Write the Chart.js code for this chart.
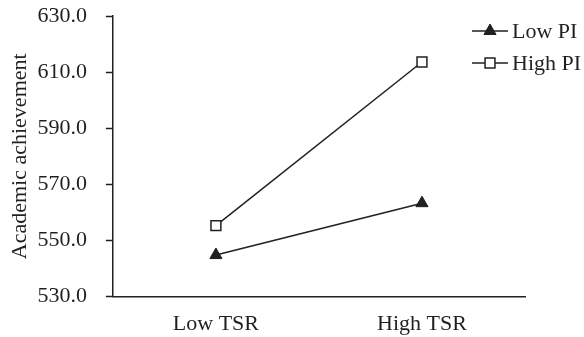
<!DOCTYPE html>
<html>
<head>
<meta charset="utf-8">
<script src="https://cdn.jsdelivr.net/npm/chart.js@4/dist/chart.umd.min.js"></script>
<style>
  html, body { margin: 0; padding: 0; background: #fff; }
  #wrap { width: 584px; height: 337px; position: relative; }
</style>
</head>
<body>
<div id="wrap"><canvas id="chart"></canvas></div>
<script>
// Data
const categories = ["Low TSR", "High TSR"];
const lowPI = [544.8, 563.3];
const highPI = [555.3, 613.6];
const yTicks = [530, 550, 570, 590, 610, 630];

const ink = "#231f20";
const serif = "'Liberation Serif', 'Times New Roman', serif";

// legend with line + marker, drawn on the canvas
const lineLegend = {
  id: "lineLegend",
  afterDraw(chart) {
    const c = chart.ctx;
    const x0 = 472, x1 = 508;
    let y = 31;
    chart.data.datasets.forEach(ds => {
      c.save();
      c.strokeStyle = ink;
      c.lineWidth = 1.5;
      c.beginPath();
      c.moveTo(x0, y);
      c.lineTo(x1, y);
      c.stroke();
      c.fillStyle = ds.pointBackgroundColor;
      c.strokeStyle = ds.pointBorderColor;
      c.lineWidth = ds.pointBorderWidth;
      Chart.helpers.drawPoint(c, {
        pointStyle: ds.pointStyle,
        radius: ds.pointRadius,
        borderWidth: ds.pointBorderWidth
      }, (x0 + x1) / 2, y);
      c.fillStyle = ink;
      c.font = "22px " + serif;
      c.textBaseline = "middle";
      c.fillText(ds.label, 512, y + 1);
      c.restore();
      y += 32;
    });
  }
};

new Chart(document.getElementById("chart"), {
  type: "line",
  data: {
    labels: categories,
    datasets: [
      {
        label: "Low PI",
        data: lowPI,
        borderColor: ink,
        borderWidth: 1.5,
        pointStyle: "triangle",
        pointRadius: 7,
        pointBorderWidth: 1,
        pointBackgroundColor: ink,
        pointBorderColor: ink
      },
      {
        label: "High PI",
        data: highPI,
        borderColor: ink,
        borderWidth: 1.5,
        pointStyle: "rect",
        pointRadius: 7,
        pointBorderWidth: 1.5,
        pointBackgroundColor: "#fff",
        pointBorderColor: ink
      }
    ]
  },
  options: {
    responsive: true,
    maintainAspectRatio: false,
    animation: false,
    layout: { padding: { top: 16, right: 59, bottom: 0, left: 7 } },
    plugins: {
      legend: { display: false },
      tooltip: { enabled: false }
    },
    scales: {
      x: {
        offset: true,
        // chart.js reserves the tick padding twice; give one back
        afterFit(axis) { axis.height -= axis.options.ticks.padding; },
        grid: { display: false, drawTicks: false },
        border: { color: ink, width: 1.5 },
        ticks: { color: ink, font: { family: serif, size: 22 }, padding: 14 }
      },
      y: {
        min: 530,
        max: 630,
        afterBuildTicks(axis) { axis.ticks = yTicks.map(v => ({ value: v })); },
        afterFit(axis) {
          const p = axis.options.ticks.padding;
          axis.width -= p;
          axis.paddingTop = Math.max(axis.paddingTop - p, 0);
          axis.paddingBottom = Math.max(axis.paddingBottom - p, 0);
        },
        grid: { display: true, drawOnChartArea: false, drawTicks: true, tickLength: 7, tickColor: ink, tickWidth: 1.5 },
        border: { color: ink, width: 1.5 },
        ticks: {
          color: ink,
          font: { family: serif, size: 22 },
          padding: 19,
          callback: v => v.toFixed(1)
        },
        title: {
          display: true,
          text: "Academic achievement",
          color: ink,
          font: { family: serif, size: 22 },
          padding: { top: 0, bottom: 4 }
        }
      }
    }
  },
  plugins: [lineLegend]
});
</script>
</body>
</html>
